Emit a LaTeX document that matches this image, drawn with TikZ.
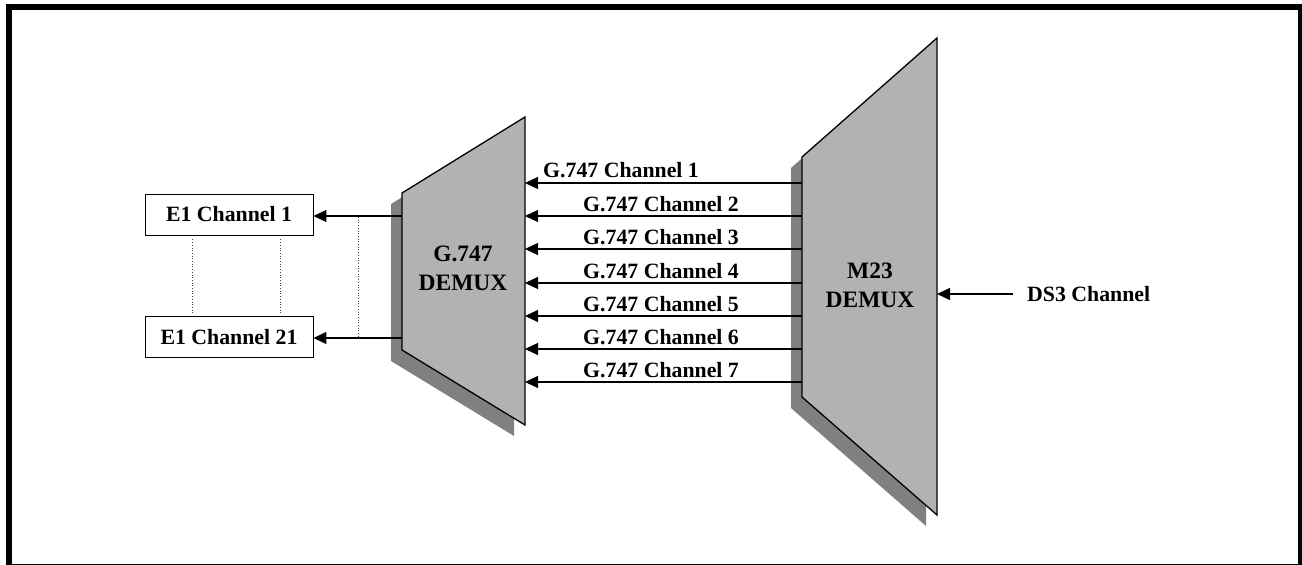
\documentclass[tikz,border=0pt]{standalone}
\usepackage{fontspec}
\setmainfont{Liberation Serif}
\usetikzlibrary{arrows.meta}
\definecolor{muxgray}{RGB}{178,178,178}
\definecolor{shadowgray}{RGB}{128,128,128}
\begin{document}
\begin{tikzpicture}[x=1pt,y=-1pt,
  lbl/.style={font=\fontsize{21.8}{24}\selectfont\bfseries, inner sep=0pt},
  big/.style={font=\fontsize{23.5}{29}\selectfont\bfseries, align=center, inner sep=0pt},
  arr/.style={-{Triangle[length=13pt,width=12pt]}, line width=1.1pt},
  box/.style={draw, line width=0.9pt, minimum width=168pt, minimum height=41pt, inner sep=0pt,
              font=\fontsize{21.8}{24}\selectfont\bfseries},
  dots/.style={dotted, line width=0.7pt, draw=black!75},
  mux/.style={fill=muxgray, draw=black, line width=1.3pt, line join=miter},
  muxshadow/.style={fill=shadowgray}]
\useasboundingbox (0,0) rectangle (1302,565);
\begin{scope}
  \clip (0,0) rectangle (1302,565);
  \draw[line width=6pt] (9,7) rectangle (1300.5,567);
\end{scope}

% G.747 DEMUX
\fill[muxshadow] (391,204) -- (514,128) -- (514,436) -- (391,361) -- cycle;
\draw[mux] (402,193) -- (525,117) -- (525,425) -- (402,350) -- cycle;
\node[big] (gtxt) at (463,268) {G.747\\DEMUX};

% M23 DEMUX
\fill[muxshadow] (791,168) -- (926,49) -- (926,526) -- (791,408) -- cycle;
\draw[mux] (802,157) -- (937,38) -- (937,515) -- (802,397) -- cycle;
\node[big] (mtxt) at (870,285) {M23\\DEMUX};

% edge coordinates
\foreach \i/\y in {1/183,2/216,3/249,4/283,5/316,6/349,7/382} {
  \coordinate (mL\i) at (802,\y);
  \coordinate (gR\i) at (525,\y);
}
\coordinate (gL1) at (402,216);
\coordinate (gL2) at (402,338);
\coordinate (mR) at (937,294);
\coordinate (ds3start) at (1013,294);

% channel arrows
\foreach \i in {1,...,7} { \draw[arr] (mL\i) -- (gR\i); }
\node[lbl, anchor=base west] (c1) at (543,177) {G.747 Channel 1};
\node[lbl, anchor=base west] (c2) at (583,211) {G.747 Channel 2};
\node[lbl, anchor=base west] (c3) at (583,244) {G.747 Channel 3};
\node[lbl, anchor=base west] (c4) at (583,278) {G.747 Channel 4};
\node[lbl, anchor=base west] (c5) at (583,311) {G.747 Channel 5};
\node[lbl, anchor=base west] (c6) at (583,344) {G.747 Channel 6};
\node[lbl, anchor=base west] (c7) at (583,377) {G.747 Channel 7};

% E1 boxes
\node[box] (e1) at (229,214.5) {E1 Channel 1};
\node[box] (e21) at (229,337) {E1 Channel 21};
\draw[arr] (gL1) -- (gL1 -| e1.east);
\draw[arr] (gL2) -- (gL2 -| e21.east);

% dotted lines
\draw[dots] ([xshift=-37pt,yshift=-4pt]e1.south) -- ([xshift=-37pt,yshift=3pt]e21.north);
\draw[dots] ([xshift=51pt,yshift=-4pt]e1.south) -- ([xshift=51pt,yshift=3pt]e21.north);
\coordinate (dt) at (358,217);
\coordinate (db) at (358,337);
\draw[dots] (dt) -- (db);

% DS3
\node[lbl, anchor=west] (ds3) at (1027,294) {DS3 Channel};
\draw[arr] (ds3start) -- (mR);
\end{tikzpicture}
\end{document}
